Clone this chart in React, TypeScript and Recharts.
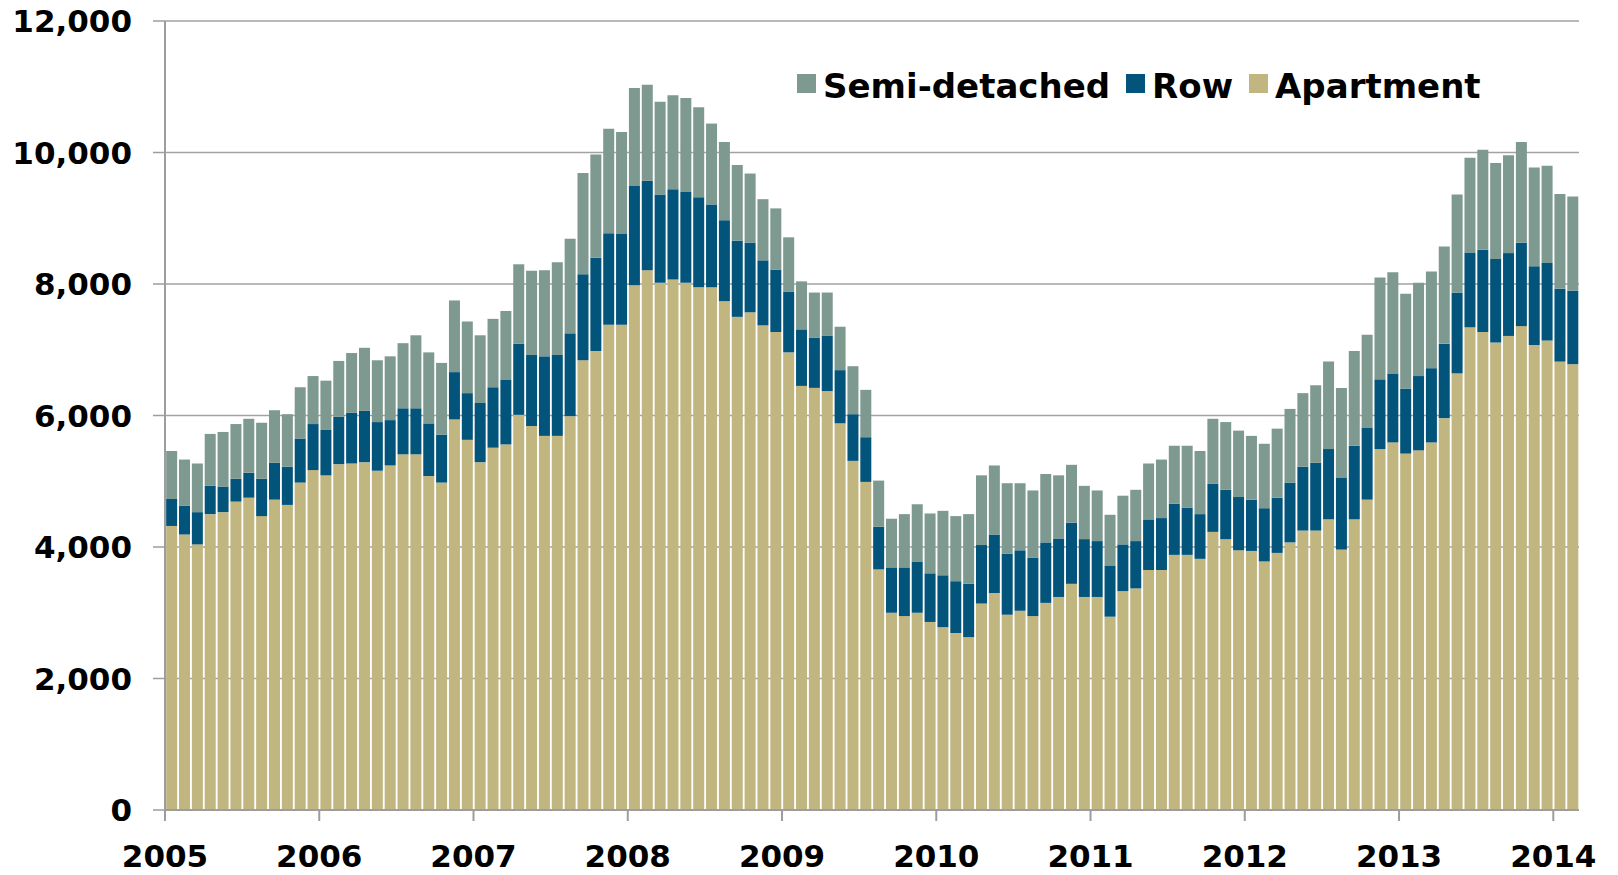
import React from 'react';
import { BarChart, Bar, XAxis, YAxis, CartesianGrid } from 'recharts';

const startYear = 2005;
const monthCount = 110;
const months: string[] = Array.from({ length: monthCount }, (_, i) => {
  const y = startYear + Math.floor(i / 12);
  const m = (i % 12) + 1;
  return `${y}-${m < 10 ? '0' + m : m}`;
});

const apartment = [
  4320, 4190, 4040, 4500, 4530, 4690, 4750, 4470, 4720, 4640, 4980, 5170,
  5090, 5260, 5270, 5290, 5160, 5240, 5410, 5410, 5080, 4980, 5940, 5630,
  5290, 5510, 5560, 6010, 5840, 5690, 5690, 5990, 6840, 6980, 7380, 7380,
  7980, 8210, 8020, 8070, 8020, 7950, 7950, 7740, 7500, 7570, 7370, 7270,
  6960, 6450, 6420, 6370, 5880, 5310, 4990, 3660, 3000, 2950, 3000, 2860,
  2780, 2690, 2630, 3140, 3300, 2970, 3030, 2950, 3150, 3240, 3440, 3240,
  3240, 2940, 3330, 3370, 3650, 3650, 3880, 3880, 3820, 4230, 4120, 3950,
  3940, 3780, 3910, 4070, 4250, 4250, 4420, 3960, 4420, 4720, 5490, 5590,
  5420, 5470, 5590, 5960, 6640, 7340, 7270, 7110, 7210, 7360, 7070, 7140,
  6820, 6780,
];

const row = [
  410, 440, 490, 430, 390, 350, 380, 570, 560, 580, 670, 700,
  690, 720, 770, 780, 740, 690, 700, 700, 800, 730, 720, 710,
  900, 920, 980, 1080, 1080, 1210, 1230, 1260, 1310, 1420, 1390, 1380,
  1510, 1360, 1340, 1370, 1380, 1370, 1260, 1230, 1160, 1060, 990, 950,
  920, 860, 760, 840, 810, 710, 680, 650, 690, 740, 780, 740,
  790, 790, 810, 890, 890, 930, 920, 890, 920, 890, 930, 880,
  850, 780, 710, 720, 770, 790, 780, 720, 680, 730, 750, 810,
  780, 810, 840, 910, 970, 1030, 1070, 1090, 1120, 1090, 1060, 1050,
  990, 1130, 1130, 1130, 1230, 1140, 1250, 1270, 1260, 1270, 1200, 1180,
  1110, 1120,
];

const semiDetached = [
  730, 700, 740, 790, 830, 830, 820, 850, 800, 800, 780, 730,
  750, 850, 910, 960, 940, 970, 990, 1110, 1080, 1090, 1090, 1090,
  1030, 1040, 1050, 1210, 1280, 1310, 1410, 1440, 1540, 1570, 1590, 1550,
  1490, 1460, 1410, 1430, 1430, 1370, 1230, 1190, 1150, 1050, 930, 930,
  830, 730, 690, 660, 660, 730, 720, 700, 740, 810, 870, 910,
  980, 990, 1060, 1060, 1050, 1070, 1020, 1020, 1040, 960, 880, 810,
  770, 770, 740, 780, 850, 890, 880, 940, 960, 990, 1030, 1010,
  970, 980, 1050, 1120, 1120, 1180, 1330, 1370, 1440, 1420, 1550, 1540,
  1440, 1420, 1470, 1480, 1490, 1440, 1520, 1460, 1490, 1530, 1500, 1480,
  1440, 1430,
];

const yTicks = [0, 2000, 4000, 6000, 8000, 10000, 12000];
const yearTicks = months.filter((m) => m.endsWith('-01'));

const seriesNames = { semi: 'Semi-detached', row: 'Row', apartment: 'Apartment' };
const colors = { semi: '#7E998F', row: '#03547A', apartment: '#C1B580' };

const data = months.map((m, i) => ({
  m,
  apartment: apartment[i],
  row: row[i],
  semi: semiDetached[i],
}));

const W = 1618;
const H = 875;
const Y_AXIS_W = 165;
const M_RIGHT = 39;
const M_TOP = 21;
const X_AXIS_H = 65;
const HALF_BAND = (W - Y_AXIS_W - M_RIGHT) / monthCount / 2;
const FONT = '"DejaVu Sans", sans-serif';
const AXIS_GREY = '#9d9d9d';

const YearTick = (props: any) => {
  const { x, y, payload } = props;
  const cx = x - HALF_BAND;
  return (
    <g>
      <line x1={cx} x2={cx} y1={y} y2={y + 11} stroke={AXIS_GREY} strokeWidth={2} />
      <text
        x={cx}
        y={y + 46}
        textAnchor="middle"
        dominantBaseline="central"
        fontFamily={FONT}
        fontWeight="bold"
        fontSize={31}
        fill="#000"
      >
        {String(payload.value).slice(0, 4)}
      </text>
    </g>
  );
};

const fmt = (v: number) => v.toLocaleString('en-US');

const LegendItem = ({ color, label }: { color: string; label: string }) => (
  <div style={{ display: 'flex', alignItems: 'center', marginRight: 16 }}>
    <div style={{ width: 19, height: 19, background: color, marginRight: 7, position: 'relative', top: -3 }} />
    <span style={{ fontFamily: FONT, fontWeight: 'bold', fontSize: 34, color: '#000', lineHeight: '40px' }}>{label}</span>
  </div>
);

export default function App() {
  return (
    <div style={{ position: 'absolute', left: 0, top: 0, width: W, height: H, background: '#fff' }}>
      <BarChart
        width={W}
        height={H}
        data={data}
        margin={{ top: M_TOP, right: M_RIGHT, bottom: 0, left: 0 }}
        barCategoryGap="9%"
      >
        <CartesianGrid horizontal vertical={false} stroke="#a2a2a2" strokeWidth={1.5} />
        <XAxis
          dataKey="m"
          ticks={yearTicks}
          interval={0}
          tick={<YearTick />}
          tickLine={false}
          tickSize={0}
          tickMargin={0}
          height={X_AXIS_H}
          axisLine={{ stroke: AXIS_GREY, strokeWidth: 2 }}
        />
        <YAxis
          width={Y_AXIS_W}
          domain={[0, 12000]}
          ticks={yTicks}
          interval={0}
          tickFormatter={fmt}
          tickSize={12}
          tickMargin={21}
          axisLine={{ stroke: AXIS_GREY, strokeWidth: 2 }}
          tickLine={{ stroke: AXIS_GREY, strokeWidth: 1.5 }}
          tick={{ fontFamily: FONT, fontWeight: 'bold', fontSize: 31, fill: '#000' }}
        />
        <Bar dataKey="apartment" name={seriesNames.apartment} stackId="a" fill={colors.apartment} isAnimationActive={false} />
        <Bar dataKey="row" name={seriesNames.row} stackId="a" fill={colors.row} isAnimationActive={false} />
        <Bar dataKey="semi" name={seriesNames.semi} stackId="a" fill={colors.semi} isAnimationActive={false} />
      </BarChart>
      <div style={{ position: 'absolute', left: 797, top: 66, display: 'flex', alignItems: 'center' }}>
        <LegendItem color={colors.semi} label={seriesNames.semi} />
        <LegendItem color={colors.row} label={seriesNames.row} />
        <LegendItem color={colors.apartment} label={seriesNames.apartment} />
      </div>
    </div>
  );
}
